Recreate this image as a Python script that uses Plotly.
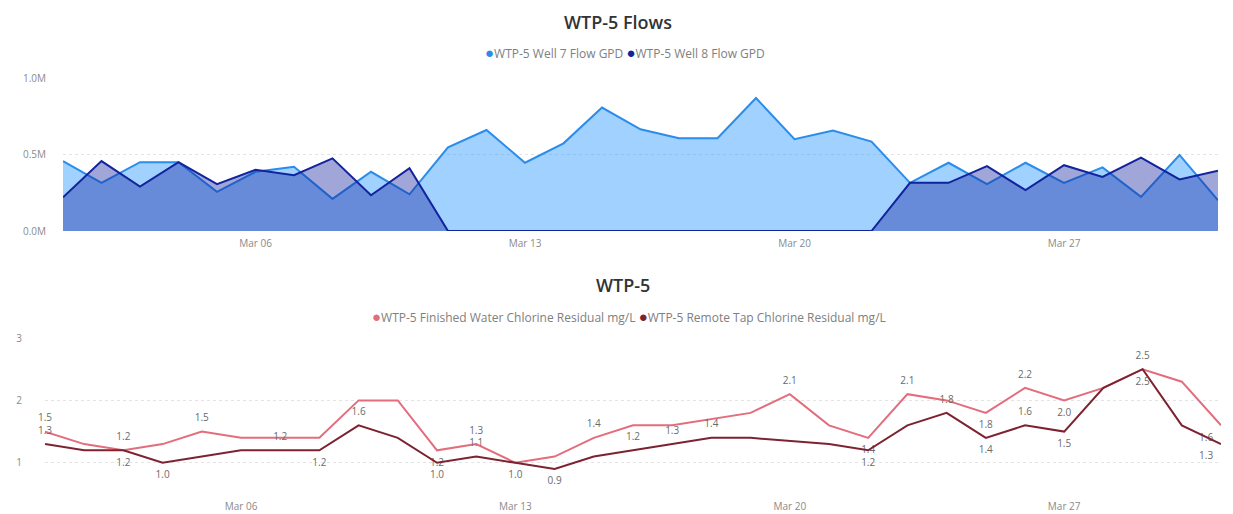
import plotly.graph_objects as go
import pandas as pd

# ---------------- data ----------------
dates = pd.date_range("2023-03-01", "2023-03-31", freq="D")

well7_gpd = [457000, 315000, 450000, 450000, 256000, 387000, 420000, 210000, 387000, 240000,
             547000, 660000, 446000, 573000, 807000, 665000, 606000, 606000, 869000, 600000,
             656000, 584000, 315000, 446000, 306000, 446000, 315000, 416000, 223000, 497000,
             200000]
well8_gpd = [220000, 457000, 290000, 450000, 306000, 400000, 365000, 475000, 234000, 410000,
             0, 0, 0, 0, 0, 0, 0, 0, 0, 0,
             0, 0, 315000, 315000, 424000, 267000, 430000, 354000, 480000, 337000,
             394000]
finished_cl = [1.5, 1.3, 1.2, 1.3, 1.5, 1.4, 1.4, 1.4, 2.0, 2.0,
               1.2, 1.3, 1.0, 1.1, 1.4, 1.6, 1.6, 1.7, 1.8, 2.1,
               1.6, 1.4, 2.1, 2.0, 1.8, 2.2, 2.0, 2.2, 2.5, 2.3,
               1.6]
remote_cl = [1.3, 1.2, 1.2, 1.0, 1.1, 1.2, 1.2, 1.2, 1.6, 1.4,
             1.0, 1.1, 1.0, 0.9, 1.1, 1.2, 1.3, 1.4, 1.4, 1.35,
             1.3, 1.2, 1.6, 1.8, 1.4, 1.6, 1.5, 2.2, 2.5, 1.6,
             1.3]

# which days carry a data label (index into dates), and where
finished_lab_above = [0, 2, 4, 11, 14, 19, 22, 25, 28]
finished_lab_below = [10, 21, 24, 26, 30]
remote_lab_above = [0, 6, 8, 11, 15, 16, 17, 23, 25]
remote_lab_below = [2, 3, 7, 10, 12, 13, 21, 24, 26, 28, 30]

flow_tickvals = [0, 500000, 1000000]
flow_ticktext = ["0.0M", "0.5M", "1.0M"]
cl_tickvals = [1, 2, 3]
date_tickvals = ["2023-03-06", "2023-03-13", "2023-03-20", "2023-03-27"]
date_ticktext = ["Mar 06", "Mar 13", "Mar 20", "Mar 27"]

titles = ["WTP-5 Flows", "WTP-5"]
names = {
    "w7": "WTP-5 Well 7 Flow GPD",
    "w8": "WTP-5 Well 8 Flow GPD",
    "fin": "WTP-5 Finished Water Chlorine Residual mg/L",
    "rem": "WTP-5 Remote Tap Chlorine Residual mg/L",
}

# ---------------- style ----------------
C_W7 = "#2A8CEB"
C_W8 = "#12239E"
C_FIN = "#E36D7C"
C_REM = "#7D2231"
FONT = "Open Sans"
OFF = 8                      # page body margin
W, H = 1233 - OFF, 514 - OFF


def fx(px):
    return (px - OFF) / W


def fy(px):
    return 1 - (px - OFF) / H


def labels(values, above, below):
    txt, pos = [], []
    last = len(values) - 1
    for i, v in enumerate(values):
        side = "top" if i in above else "bottom"
        if i in above or i in below:
            txt.append(f"{v:.1f}")
        else:
            txt.append("")
        pos.append(side + (" left" if i == last else " center"))
    return txt, pos


fig = go.Figure()

# top area chart
fig.add_trace(go.Scatter(x=dates, y=well7_gpd, mode="lines", fill="tozeroy", name=names["w7"],
                         fillcolor="rgba(17,141,255,0.40)",
                         line=dict(color=C_W7, width=2), showlegend=False,
                         xaxis="x", yaxis="y"))
fig.add_trace(go.Scatter(x=dates, y=well8_gpd, mode="lines", fill="tozeroy", name=names["w8"],
                         fillcolor="rgba(18,35,158,0.40)",
                         line=dict(color=C_W8, width=2), showlegend=False,
                         xaxis="x", yaxis="y"))

# bottom line chart
ft, fp = labels(finished_cl, finished_lab_above, finished_lab_below)
rt, rp = labels(remote_cl, remote_lab_above, remote_lab_below)
lab_font = dict(size=10, color="#6b6b6b", family=FONT)
hidden_marker = dict(size=11, opacity=0)
fig.add_trace(go.Scatter(x=dates, y=finished_cl, mode="lines+markers+text", text=ft,
                         textposition=fp, textfont=lab_font, name=names["fin"],
                         marker=dict(color=C_FIN, **hidden_marker),
                         line=dict(color=C_FIN, width=2), showlegend=False,
                         cliponaxis=False, xaxis="x2", yaxis="y2"))
fig.add_trace(go.Scatter(x=dates, y=remote_cl, mode="lines+markers+text", text=rt,
                         textposition=rp, textfont=lab_font, name=names["rem"],
                         marker=dict(color=C_REM, **hidden_marker),
                         line=dict(color=C_REM, width=2), showlegend=False,
                         cliponaxis=False, xaxis="x2", yaxis="y2"))


def legend_text(items):
    parts = [f"<span style='color:{c};font-size:15px'>●</span>{names[k]}" for k, c in items]
    return " ".join(parts)


xrange_ = [dates[0], dates[-1]]
axis_font = dict(size=10, color="#8a8a8a", family=FONT)
grid = dict(showgrid=True, gridcolor="#e4e4e4", griddash="dot", gridwidth=1)
title_font = dict(size=18, color="#333333", family=FONT, weight=600)
leg_font = dict(size=12, color="#808080", family=FONT)

fig.update_layout(
    width=W, height=H,
    margin=dict(l=0, r=0, t=0, b=0, autoexpand=False),
    paper_bgcolor="white", plot_bgcolor="white",
    font=dict(family=FONT, color="#666666"),
    showlegend=False,
    xaxis=dict(domain=[fx(63), fx(1218)], range=xrange_, tickvals=date_tickvals,
               ticktext=date_ticktext, tickfont=axis_font, showgrid=False, automargin=False,
               zeroline=False, showline=False, anchor="y", ticks="", ticklabelstandoff=5),
    yaxis=dict(domain=[fy(231), fy(78)], range=[0, 1000000], tickvals=flow_tickvals,
               ticktext=flow_ticktext, tickfont=axis_font, zeroline=False, automargin=False,
               showline=False, anchor="x", ticklabelstandoff=16, **grid),
    xaxis2=dict(domain=[fx(45), fx(1221)], range=xrange_, tickvals=date_tickvals,
                ticktext=date_ticktext, tickfont=axis_font, showgrid=False, automargin=False,
                zeroline=False, showline=False, anchor="y2", ticks="", ticklabelstandoff=5),
    yaxis2=dict(domain=[fy(494), fy(338)], range=[0.5, 3.0], tickvals=cl_tickvals,
                tickfont=axis_font, zeroline=False, showline=False, anchor="x2",
                automargin=False, ticklabelstandoff=22, **grid),
    annotations=[
        dict(text=titles[0], x=fx(618), y=fy(22), xref="paper", yref="paper",
             xanchor="center", yanchor="middle", showarrow=False, font=title_font),
        dict(text=legend_text([("w7", C_W7), ("w8", C_W8)]), x=fx(625), y=fy(52),
             xref="paper", yref="paper", xanchor="center", yanchor="middle",
             showarrow=False, font=leg_font),
        dict(text=titles[1], x=fx(623), y=fy(285), xref="paper", yref="paper",
             xanchor="center", yanchor="middle", showarrow=False, font=title_font),
        dict(text=legend_text([("fin", C_FIN), ("rem", C_REM)]), x=fx(629), y=fy(316),
             xref="paper", yref="paper", xanchor="center", yanchor="middle",
             showarrow=False, font=leg_font),
    ],
)

fig.write_html("out.html")
